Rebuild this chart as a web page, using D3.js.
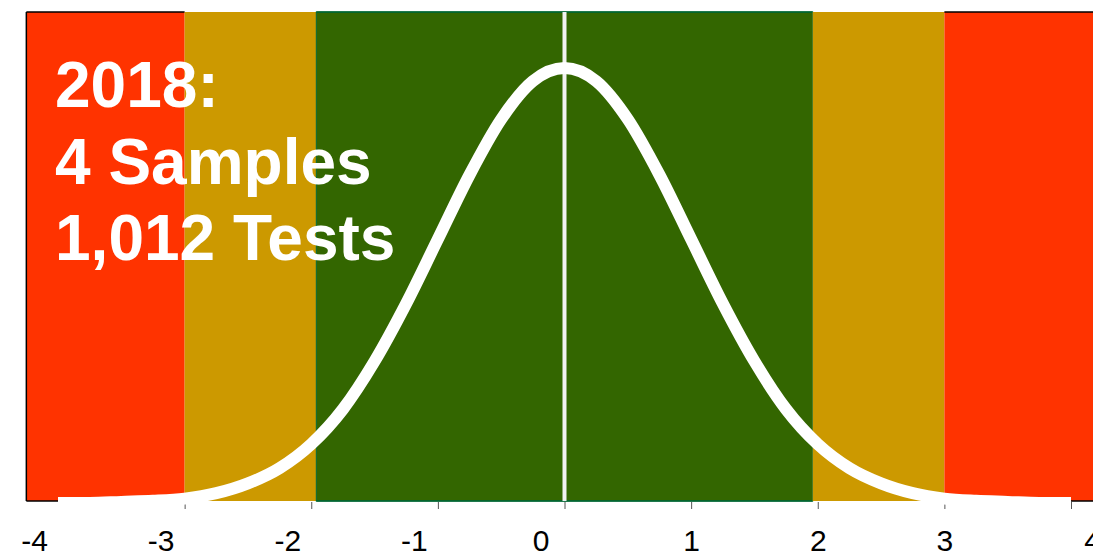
<!DOCTYPE html>
<html>
<head>
<meta charset="utf-8">
<script src="https://cdn.jsdelivr.net/npm/d3@7"></script>
<style>
  body { margin: 0; background: white; }
  text { font-family: Arial, "Liberation Sans", sans-serif; }
</style>
</head>
<body>
<div id="container"></div>
<script>
let w = 1093;
let h = 553;

// z-score zones
let zoneStart = [-4.25, -3, -1.96, 1.96, 3];
let zoneEnd = [-3, -1.96, 1.96, 3, 4.4];
let zoneColor = ['#FF3300', '#CC9900', '#336600', '#CC9900', '#FF3300'];
let zoneEdge = ['#000000', 'none', '#006633', 'none', '#000000'];

// curve (density vs z)
let curveX = [-4, -3.75, -3.5, -3.25, -3, -2.75, -2.5, -2.25, -2, -1.75, -1.5, -1.25, -1, -0.75, -0.5, -0.25,
              0, 0.25, 0.5, 0.75, 1, 1.25, 1.5, 1.75, 2, 2.25, 2.5, 2.75, 3, 3.25, 3.5, 3.75, 4];
let curveY = [0.000, 0.000, 0.001, 0.002, 0.004, 0.009, 0.018, 0.032, 0.054, 0.086, 0.130, 0.183, 0.242, 0.301, 0.352, 0.387,
              0.399, 0.387, 0.352, 0.301, 0.242, 0.183, 0.130, 0.086, 0.054, 0.032, 0.018, 0.009, 0.004, 0.002, 0.001, 0.000, 0.000];

let tickValues = [-4, -3, -2, -1, 0, 1, 2, 3, 4];
let titleLines = ['2018:', '4 Samples', '1,012 Tests'];

let plotTop = 12;
let plotBottom = 501;

let x = d3.scaleLinear().domain([-4, 4]).range([58, 1071]);
let y = d3.scaleLinear().domain([0, 0.399]).range([503, 68]);

let viz = d3.select("#container")
  .append("svg")
    .attr("width", w)
    .attr("height", h)
    .style("background-color", "white")
;

// colored zones
let zones = viz.selectAll('.zone').data(zoneStart).enter()
  .append('g')
    .classed('zone', true)
;

zones.append('rect')
    .attr('x', (d, i) => x(d))
    .attr('y', plotTop)
    .attr('width', (d, i) => x(zoneEnd[i]) - x(d))
    .attr('height', plotBottom - plotTop)
    .style('fill', (d, i) => zoneColor[i])
    .style('stroke', (d, i) => i == 2 ? zoneEdge[i] : 'none')
    .style('stroke-width', 1)
;

// top and bottom edges of each zone
zones.append('path')
    .attr('d', (d, i) => 'M' + x(d) + ',' + plotTop + 'H' + x(zoneEnd[i]) +
                         'M' + x(d) + ',' + plotBottom + 'H' + x(zoneEnd[i]))
    .style('fill', 'none')
    .style('stroke', (d, i) => zoneEdge[i])
    .style('stroke-width', 1.5)
;

// left frame line
viz.append('line')
  .attr('x1', x(zoneStart[0]))
  .attr('x2', x(zoneStart[0]))
  .attr('y1', plotTop)
  .attr('y2', plotBottom)
  .style('stroke', '#000')
  .style('stroke-width', 1.5)
;

// axis
let axis = d3.axisBottom(x)
  .tickValues(tickValues)
  .tickSize(7)
  .tickPadding(21)
  .tickFormat(d => String(d));

let axisGroup = viz.append('g')
  .attr('transform', 'translate(0,' + (plotBottom + 1) + ')')
  .call(axis);

axisGroup.select('.domain').remove();
axisGroup.selectAll('.tick line').style('stroke', '#555').style('stroke-width', 1);
axisGroup.selectAll('.tick text')
  .style('font-size', '30px')
  .style('fill', '#000')
  .style('font-family', 'Arial, "Liberation Sans", sans-serif')
  // labels in the original sit a bit off their ticks
  .attr('dx', d => d <= 0 ? '-0.8em' : (d >= 4 ? '0.7em' : '0'))
;

// center line at z = 0
viz.append('line')
  .attr('x1', x(0))
  .attr('x2', x(0))
  .attr('y1', plotTop)
  .attr('y2', plotBottom)
  .style('stroke', '#f2f2f2')
  .style('stroke-width', 4)
;

// bell curve
let line = d3.line()
  .x((d, i) => x(curveX[i]))
  .y(d => y(d))
  .curve(d3.curveMonotoneX);

viz.append('path')
  .datum(curveY)
  .attr('d', line)
  .style('fill', 'none')
  .style('stroke', 'white')
  .style('stroke-width', 12)
  .style('stroke-linejoin', 'round')
;

// title text
viz.append('text')
  .attr('x', 55)
  .attr('y', 107)
  .style('font-size', '64px')
  .style('font-weight', 'bold')
  .style('fill', 'white')
  .selectAll('tspan').data(titleLines).enter()
  .append('tspan')
    .attr('x', 55)
    .attr('dy', (d, i) => i == 0 ? 0 : 76.5)
    .text(d => d)
;
</script>
</body>
</html>
